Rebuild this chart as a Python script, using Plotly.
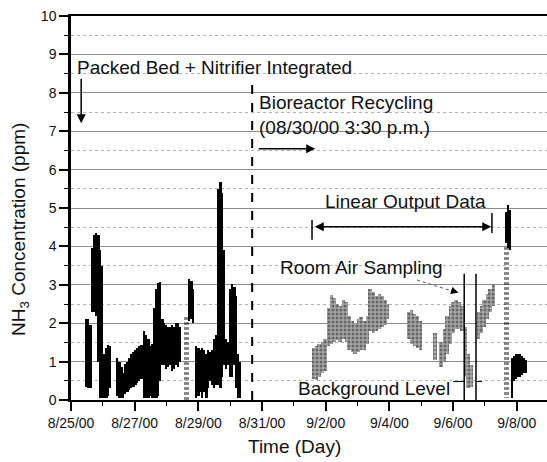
import pandas as pd
import plotly.graph_objects as go

BASE = pd.Timestamp("2000-08-25")

def t(days):
    return BASE + pd.to_timedelta(days, unit="D")

# ---- data: days since 8/25/00 00:00, concentration range (ppm) of each dense streak ----
blk_day = [0.48, 0.54, 0.61, 0.67, 0.73, 0.79, 0.86, 0.92, 0.98, 1.05, 1.11, 1.17, 1.23,
           1.45, 1.52, 1.58, 1.64, 1.70, 1.77, 1.83, 1.89, 1.96, 2.02, 2.08, 2.14, 2.21,
           2.30, 2.36, 2.43, 2.49, 2.55, 2.61, 2.68, 2.74, 2.80, 2.87, 2.93, 2.99, 3.05,
           3.12, 3.18, 3.24, 3.31, 3.37, 3.43, 3.71, 3.78, 3.84, 3.93, 4.00, 4.06, 4.12,
           4.18, 4.25, 4.31, 4.37, 4.44, 4.50, 4.56, 4.62, 4.69, 4.75, 4.81, 4.87, 4.94,
           5.00, 5.06, 5.13, 5.19, 5.25, 5.31,
           13.66, 13.72, 13.79, 13.85, 13.91, 13.98, 14.04, 14.10, 14.17, 14.23, 14.29]
blk_lo = [0.35, 0.30, 0.30, 2.30, 2.30, 2.20, 1.00, 0.05, 0.05, 0.05, 0.05, 0.10, 0.30,
          0.10, 0.05, 0.05, 0.05, 0.15, 0.20, 0.25, 0.30, 0.35, 0.40, 0.45, 0.50, 0.55,
          0.05, 0.05, 0.05, 0.10, 0.05, 0.05, 0.05, 0.10, 0.50, 0.90, 0.90, 0.80, 0.85,
          0.90, 0.75, 0.80, 0.90, 0.85, 1.00, 2.05, 2.10, 2.00, 0.05, 0.10, 0.20, 0.05,
          0.20, 0.05, 0.30, 0.50, 0.40, 0.30, 0.40, 0.40, 0.30, 0.60, 0.90, 0.80, 0.90,
          0.60, 0.60, 0.90, 0.30, 0.05, 0.05,
          4.10, 3.95, 3.90, 0.05, 0.50, 0.55, 0.60, 0.60, 0.65, 0.70, 0.70]
blk_hi = [2.10, 2.10, 1.95, 3.95, 4.30, 4.35, 4.30, 3.90, 3.50, 1.20, 1.35, 1.42, 1.40,
          1.10, 1.00, 0.85, 0.70, 0.95, 1.00, 1.10, 1.20, 1.25, 1.30, 1.35, 1.40, 1.42,
          1.80, 1.70, 1.60, 1.40, 1.45, 2.40, 2.90, 3.05, 3.07, 2.10, 2.00, 1.95, 1.90,
          1.90, 1.95, 1.90, 2.00, 2.00, 1.90, 3.15, 3.10, 2.90, 1.40, 1.35, 1.30, 1.35,
          1.30, 1.20, 1.30, 1.25, 1.30, 1.60, 1.70, 5.50, 5.68, 5.40, 3.90, 1.60, 1.50,
          2.90, 3.03, 2.95, 2.70, 1.20, 1.00,
          4.90, 5.08, 4.95, 1.10, 1.15, 1.20, 1.20, 1.20, 1.15, 1.10, 1.05]

# sparse (dotted) columns
dot_day = [3.63, 13.69]
dot_lo = [0.00, 0.05]
dot_hi = [2.15, 4.00]

# linear output data (gray cloud)
gry_day = [7.61, 7.70, 7.79, 7.89, 7.98, 8.08, 8.17, 8.27, 8.36, 8.45, 8.55, 8.64, 8.73,
           8.83, 8.92, 9.02, 9.11, 9.21, 9.30, 9.39, 9.49, 9.58, 9.68, 9.77, 9.87, 9.93,
           10.59, 10.69, 10.78, 10.87, 10.97, 11.43, 11.62, 11.72, 11.81, 11.91, 12.00,
           12.09, 12.19, 12.28, 12.38, 12.47, 12.57, 12.79, 12.88, 12.97, 13.07, 13.16, 13.26]
gry_lo = [0.55, 0.52, 0.60, 0.70, 0.75, 1.40, 1.45, 1.50, 1.55, 1.52, 1.60, 1.50, 1.30,
          1.25, 1.20, 1.25, 1.30, 1.30, 1.45, 1.80, 1.75, 1.80, 1.85, 1.90, 1.95, 2.10,
          1.60, 1.45, 1.40, 1.35, 1.30, 1.05, 0.85, 1.00, 1.20, 1.45, 1.75,
          1.85, 1.85, 1.80, 0.60, 0.30, 0.35, 1.60, 1.75, 1.90, 2.10, 2.30, 2.45]
gry_hi = [1.35, 1.40, 1.45, 1.52, 1.60, 2.40, 2.73, 2.65, 2.50, 2.45, 2.60, 2.55, 2.20,
          2.05, 2.00, 2.10, 2.15, 2.05, 2.20, 2.88, 2.80, 2.70, 2.75, 2.70, 2.60, 2.50,
          2.30, 2.35, 2.25, 2.20, 2.05, 1.75, 1.50, 1.85, 2.20, 2.45, 2.55,
          2.60, 2.55, 2.45, 1.90, 1.20, 0.90, 2.30, 2.45, 2.60, 2.75, 2.90, 3.00]

x_tick_days = [0, 2, 4, 6, 8, 10, 12, 14]
x_tick_text = ["8/25/00", "8/27/00", "8/29/00", "8/31/00", "9/2/00", "9/4/00", "9/6/00", "9/8/00"]

DAY_MS = 86400000
FONT = "Arial, Liberation Sans, sans-serif"


def bar(days, lo, hi, width_days, **kw):
    return go.Bar(
        x=[t(d) for d in days],
        y=[h - l for l, h in zip(lo, hi)],
        base=lo,
        width=[width_days * DAY_MS] * len(days),
        hoverinfo="skip",
        showlegend=False,
        **kw,
    )


fig = go.Figure()
fig.add_trace(bar(gry_day, gry_lo, gry_hi, 0.1,
                  marker=dict(color="#999999", line=dict(width=0),
                              pattern=dict(shape=".", fgcolor="#262626", bgcolor="#a6a6a6",
                                           size=4, solidity=0.45))))
fig.add_trace(bar(dot_day, dot_lo, dot_hi, 0.15,
                  marker=dict(color="rgba(0,0,0,0)", line=dict(width=0),
                              pattern=dict(shape="-", fgcolor="#000", bgcolor="rgba(255,255,255,0)",
                                           size=5, solidity=0.55))))
fig.add_trace(bar(blk_day, blk_lo, blk_hi, 0.075,
                  marker=dict(color="#000", line=dict(width=0))))

shapes = []
# dashed vertical line (start of bioreactor recycling)
shapes.append(dict(type="line", xref="x", yref="y", x0=t(5.69), x1=t(5.69), y0=0, y1=8.26,
                   line=dict(color="#000", width=2, dash="dash")))
# room air sampling lines
for d in (12.35, 12.72):
    shapes.append(dict(type="line", xref="x", yref="y", x0=t(d), x1=t(d), y0=0, y1=3.29,
                       line=dict(color="#000", width=1.5)))
shapes.append(dict(type="line", xref="x", yref="y", x0=t(12.0), x1=t(12.35), y0=0.48, y1=0.48,
                   line=dict(color="#000", width=1)))
shapes.append(dict(type="line", xref="x", yref="y", x0=t(12.72), x1=t(12.91), y0=0.48, y1=0.48,
                   line=dict(color="#000", width=1)))
# linear output end bars
shapes.append(dict(type="line", xref="x", yref="y", x0=t(7.57), x1=t(7.57), y0=4.17, y1=4.69,
                   line=dict(color="#000", width=1.5)))
shapes.append(dict(type="line", xref="x", yref="y", x0=t(13.22), x1=t(13.22), y0=4.35, y1=4.87,
                   line=dict(color="#000", width=1.5)))
# dotted leader for room air sampling
shapes.append(dict(type="line", xref="x", yref="y", x0=t(10.87), x1=t(12.0), y0=3.125, y1=2.83,
                   line=dict(color="#555", width=1, dash="dot")))

ann_font = dict(family=FONT, size=19, color="#111")
annotations = [
    dict(x=t(0.135), y=8.65, xref="x", yref="y", text="Packed Bed + Nitrifier Integrated",
         showarrow=False, xanchor="left", yanchor="middle", font=ann_font),
    dict(x=t(0.32), y=7.21, xref="x", yref="y", text="", showarrow=True, ax=0, ay=-46,
         arrowhead=2, arrowsize=1.2, arrowwidth=1.5, arrowcolor="#000"),
    dict(x=t(5.85), y=7.42, xref="x", yref="y",
         text="Bioreactor Recycling<br>(08/30/00 3:30 p.m.)",
         showarrow=False, xanchor="left", yanchor="middle", align="left", font=ann_font),
    dict(x=t(7.67), y=6.54, xref="x", yref="y", text="", showarrow=True, ax=-58, ay=0,
         arrowhead=2, arrowsize=1.2, arrowwidth=1.5, arrowcolor="#000"),
    dict(x=t(10.49), y=5.16, xref="x", yref="y", text="Linear Output Data",
         showarrow=False, xanchor="center", yanchor="middle", font=ann_font),
    dict(x=t(13.2), y=4.51, xref="x", yref="y", text="", showarrow=True, ax=-178, ay=0,
         arrowhead=2, startarrowhead=2, arrowside="end+start", arrowsize=1.2,
         arrowwidth=1.5, arrowcolor="#000"),
    dict(x=t(6.51), y=3.46, xref="x", yref="y", text="Room Air Sampling",
         showarrow=False, xanchor="left", yanchor="middle", font=ann_font),
    dict(x=t(12.17), y=2.79, xref="x", yref="y", text="", showarrow=True, ax=-9, ay=-3,
         arrowhead=2, arrowsize=1, arrowwidth=1.5, arrowcolor="#000"),
    dict(x=t(7.07), y=0.30, xref="x", yref="y", text="Background Level",
         showarrow=False, xanchor="left", yanchor="middle", font=ann_font),
    dict(x=-0.107, y=0.443, xref="paper", yref="paper",
         text="NH<sub>3</sub> Concentration (ppm)", textangle=-90,
         showarrow=False, xanchor="center", yanchor="middle",
         font=dict(family=FONT, size=19, color="#111")),
    dict(x=0.47, y=-0.122, xref="paper", yref="paper", text="Time (Day)",
         showarrow=False, xanchor="center", yanchor="middle",
         font=dict(family=FONT, size=19, color="#111")),
]

fig.update_layout(
    width=547, height=462,
    margin=dict(l=71, r=0, t=16, b=62),
    paper_bgcolor="white", plot_bgcolor="white",
    barmode="overlay", bargap=0,
    showlegend=False,
    shapes=shapes, annotations=annotations,
    font=dict(family=FONT, size=14, color="#111"),
)
fig.update_xaxes(
    type="date", range=[t(0), t(14.95)],
    tickmode="array", tickvals=[t(d) for d in x_tick_days], ticktext=x_tick_text,
    ticks="outside", ticklen=9, tickwidth=1.5, tickcolor="#000",
    minor=dict(ticks="outside", ticklen=4, tickwidth=1.2, tickcolor="#000",
               dtick=DAY_MS, tick0=t(0), showgrid=False),
    showline=True, linecolor="#000", linewidth=2, mirror=True,
    showgrid=False, zeroline=False,
    tickfont=dict(family=FONT, size=14, color="#111"),
)
fig.update_yaxes(
    range=[0, 10], tickmode="linear", tick0=0, dtick=1,
    ticks="outside", ticklen=9, tickwidth=1.5, tickcolor="#000",
    minor=dict(ticks="outside", ticklen=4, tickwidth=1.2, tickcolor="#000", dtick=0.5,
               showgrid=True, gridcolor="#b0b0b0", griddash="dot", gridwidth=1),
    showline=True, linecolor="#000", linewidth=2.5, mirror=False,
    showgrid=True, gridcolor="#8c8c8c", gridwidth=1, zeroline=False,
    tickfont=dict(family=FONT, size=14, color="#111"),
)

fig.write_html("out.html")
